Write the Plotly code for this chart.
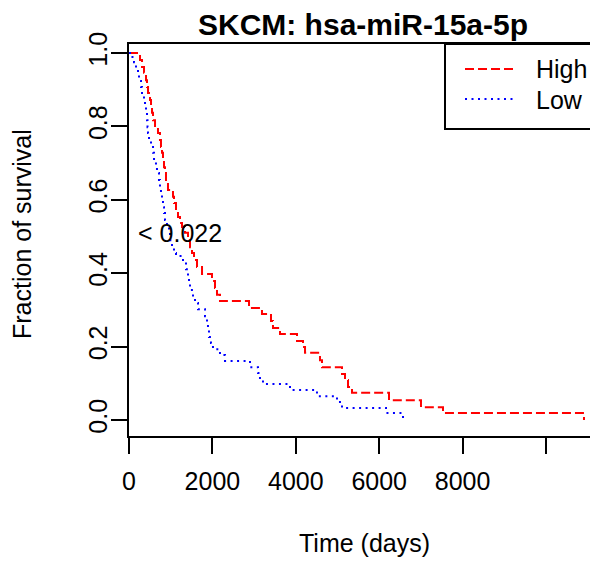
import plotly.graph_objects as go

# ---- data (Kaplan-Meier steps) ----
series_names = ["High", "Low"]
high_time = [0, 264, 312, 360, 408, 432, 456, 504, 528, 552, 576, 624, 695, 743, 767, 791, 815, 839, 863, 887, 935,
             1055, 1079, 1127, 1175, 1223, 1271, 1343, 1415, 1463, 1511, 1559, 1631, 1751, 1990, 2062, 2110, 2182,
             2878, 3189, 3405, 3453, 3621, 4029, 4173, 4221, 4580, 4628, 5108, 5180, 5252, 5348, 6235, 7002, 7530, 10911]
high_surv = [1.0, 0.981, 0.962, 0.946, 0.926, 0.907, 0.891, 0.872, 0.853, 0.837, 0.817, 0.798, 0.782, 0.763, 0.744,
             0.728, 0.708, 0.689, 0.673, 0.654, 0.627, 0.608, 0.591, 0.572, 0.553, 0.537, 0.526, 0.510, 0.490, 0.471,
             0.455, 0.436, 0.417, 0.398, 0.379, 0.360, 0.341, 0.324, 0.305, 0.289, 0.270, 0.251, 0.234, 0.215, 0.199,
             0.183, 0.163, 0.144, 0.125, 0.109, 0.090, 0.074, 0.054, 0.035, 0.019, 0.0]
low_time = [0, 48, 120, 168, 216, 240, 288, 312, 360, 384, 408, 432, 444, 456, 480, 528, 576, 600, 647, 671, 719, 743,
            767, 791, 815, 839, 863, 911, 959, 983, 1031, 1079, 1127, 1295, 1367, 1415, 1439, 1463, 1535, 1583, 1655,
            1823, 1871, 1894, 1918, 1966, 2014, 2182, 2302, 2902, 3094, 3141, 3213, 3861, 4508, 4988, 5108, 6163, 6571]
low_surv = [1.0, 0.989, 0.975, 0.959, 0.940, 0.924, 0.907, 0.891, 0.872, 0.853, 0.837, 0.817, 0.798, 0.782, 0.763,
            0.744, 0.728, 0.708, 0.689, 0.673, 0.654, 0.635, 0.619, 0.599, 0.580, 0.564, 0.545, 0.526, 0.510, 0.490,
            0.471, 0.455, 0.447, 0.431, 0.411, 0.392, 0.373, 0.354, 0.335, 0.319, 0.302, 0.283, 0.264, 0.245, 0.226,
            0.210, 0.193, 0.177, 0.161, 0.144, 0.128, 0.109, 0.098, 0.082, 0.065, 0.049, 0.033, 0.019, 0.0]
x_ticks = [0, 2000, 4000, 6000, 8000, 10000]
x_tick_labels = ["0", "2000", "4000", "6000", "8000", ""]
y_ticks = [0.0, 0.2, 0.4, 0.6, 0.8, 1.0]
y_tick_labels = ["0.0", "0.2", "0.4", "0.6", "0.8", "1.0"]
p_label = "< 0.022"
title_text = "SKCM: hsa-miR-15a-5p"

FONT = "Liberation Sans, Arial, Helvetica, sans-serif"
OFF = 8                      # default page body margin: figure starts at (8, 8) in the window
W, H = 598 - OFF, 561 - OFF
L, R, T, B = 129 - OFF, 0, 44 - OFF, 125
PW, PH = W - L - R, H - T - B
LW, TW = 129, 44             # plot-area left/top in window pixels

def px_x(p):                 # window pixel -> paper x
    return (p - LW) / PW

def px_y(p):                 # window pixel -> paper y
    return (TW + PH - p) / PH

fig = go.Figure()
fig.add_trace(go.Scatter(x=high_time, y=high_surv, mode="lines", line_shape="hv", name=series_names[0],
                         line=dict(color="#ff0000", width=2, dash="9px,4px"), showlegend=False))
fig.add_trace(go.Scatter(x=low_time, y=low_surv, mode="lines", line_shape="hv", name=series_names[1],
                         line=dict(color="#0000ff", width=2, dash="2px,4.5px"), showlegend=False))

fig.update_layout(
    width=W, height=H,
    margin=dict(l=L, r=R, t=T, b=B, pad=0),
    paper_bgcolor="white", plot_bgcolor="white",
    font=dict(family=FONT, size=25, color="black"),
    title=dict(text="<b>" + title_text + "</b>", font=dict(size=30, family=FONT),
               x=(363 - OFF) / W, xref="container", xanchor="center",
               y=1 - (24 - OFF) / H, yref="container", yanchor="middle"),
    xaxis=dict(range=[0, 11247], tickvals=x_ticks, ticktext=x_tick_labels, ticks="outside", ticklen=16,
               tickwidth=2, tickcolor="black", showline=True, linewidth=2, linecolor="black", mirror=True,
               showgrid=False, zeroline=False, ticklabelstandoff=6),
    yaxis=dict(range=[-0.0436, 1.0245], tickvals=y_ticks, ticktext=y_tick_labels, ticks="outside", ticklen=16,
               tickwidth=2, tickcolor="black", showline=True, linewidth=2, linecolor="black",
               showgrid=False, zeroline=False, tickangle=-90, ticklabelstandoff=-6),
    showlegend=False,
)

# p-value text
fig.add_annotation(x=(136 - LW) / 0.0417, y=0.51, xref="x", yref="y", text=p_label, showarrow=False,
                   xanchor="left", yanchor="middle", font=dict(size=25))

# axis titles
fig.add_annotation(x=px_x(364), y=px_y(543), xref="paper", yref="paper", text="Time (days)", showarrow=False,
                   xanchor="center", yanchor="middle", font=dict(size=25))
fig.add_annotation(x=px_x(22), y=px_y(234), xref="paper", yref="paper", text="Fraction of survival",
                   showarrow=False, textangle=-90, xanchor="center", yanchor="middle", font=dict(size=25))

# legend box (manual)
fig.add_shape(type="rect", xref="paper", yref="paper", x0=px_x(445), x1=px_x(620), y0=px_y(129), y1=px_y(44),
              line=dict(color="black", width=2), fillcolor="white", layer="above")
fig.add_shape(type="line", xref="paper", yref="paper", x0=px_x(465), x1=px_x(514), y0=px_y(69), y1=px_y(69),
              line=dict(color="#ff0000", width=2, dash="9px,4px"), layer="above")
fig.add_shape(type="line", xref="paper", yref="paper", x0=px_x(465), x1=px_x(514), y0=px_y(99), y1=px_y(99),
              line=dict(color="#0000ff", width=2, dash="2px,4.5px"), layer="above")
fig.add_annotation(x=px_x(534), y=px_y(69), xref="paper", yref="paper", text=series_names[0], showarrow=False,
                   xanchor="left", yanchor="middle", font=dict(size=25))
fig.add_annotation(x=px_x(534), y=px_y(100), xref="paper", yref="paper", text=series_names[1], showarrow=False,
                   xanchor="left", yanchor="middle", font=dict(size=25))

fig.write_html("out.html")
